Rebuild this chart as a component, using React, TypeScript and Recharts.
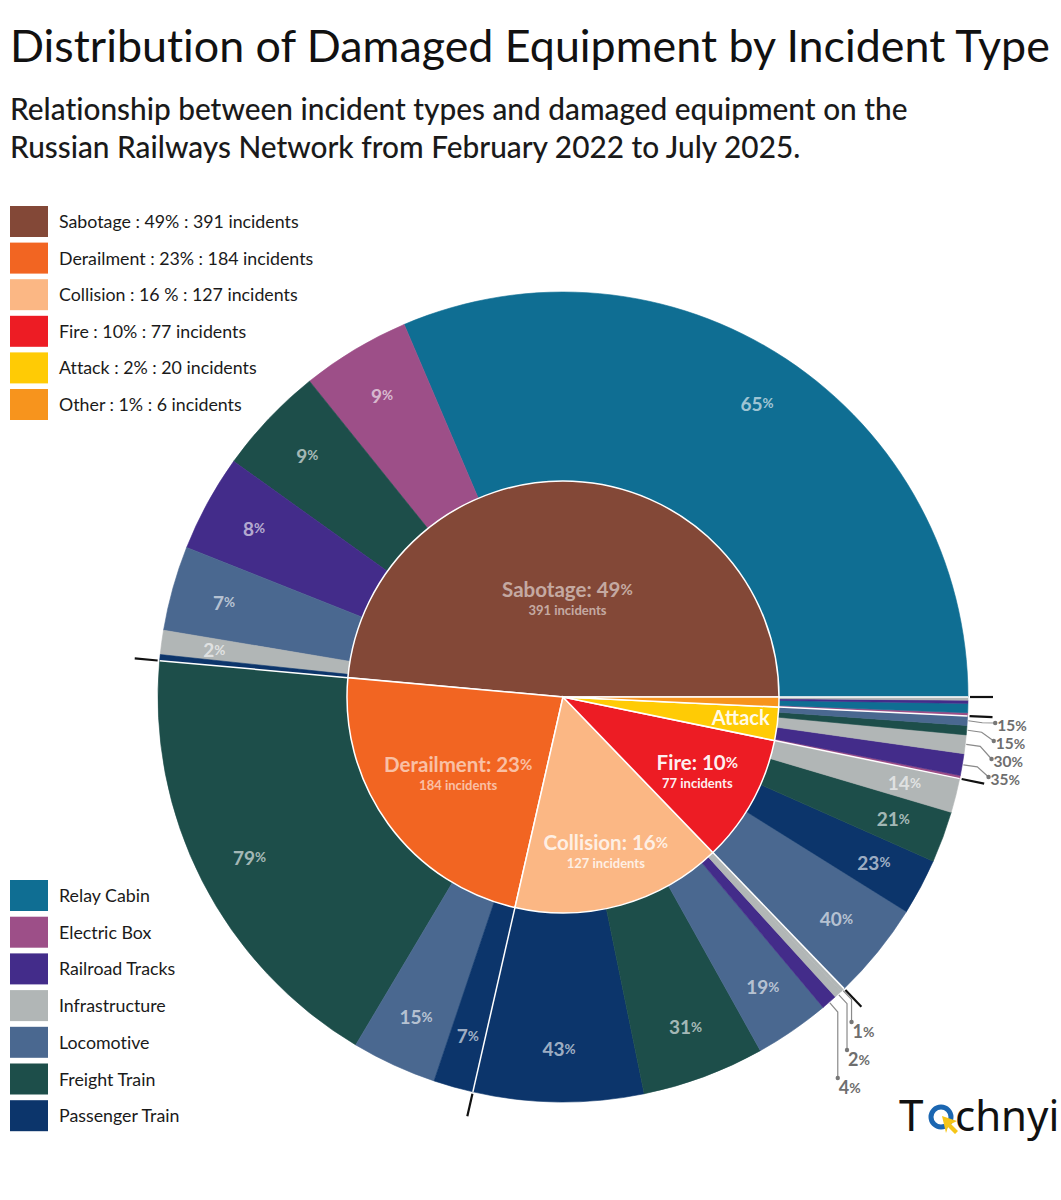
import React from 'react';
import { PieChart, Pie, Cell } from 'recharts';

// ---------------- DATA ----------------
const incidentTypes = ['Sabotage', 'Derailment', 'Collision', 'Fire', 'Attack', 'Other'];
const incidentCounts = [391, 184, 127, 77, 20, 6];
const incidentPctText = ['49%', '23%', '16%', '10%', '2%', '1%'];
const legendIncidentLabels = [
  'Sabotage : 49% : 391 incidents',
  'Derailment : 23% : 184 incidents',
  'Collision : 16 % : 127 incidents',
  'Fire : 10% : 77 incidents',
  'Attack : 2% : 20 incidents',
  'Other : 1% : 6 incidents',
];

const equipmentTypes = [
  'Relay Cabin',
  'Electric Box',
  'Railroad Tracks',
  'Infrastructure',
  'Locomotive',
  'Freight Train',
  'Passenger Train',
];

const sabotageEquipment = ['Relay Cabin', 'Electric Box', 'Freight Train', 'Railroad Tracks', 'Locomotive', 'Infrastructure', 'Passenger Train'];
const sabotageShares = [65, 9, 9, 8, 7, 2, 0.5];

const derailmentEquipment = ['Freight Train', 'Locomotive', 'Passenger Train'];
const derailmentShares = [79, 15, 7];

const collisionEquipment = ['Passenger Train', 'Freight Train', 'Locomotive', 'Railroad Tracks', 'Infrastructure', 'Infrastructure'];
const collisionShares = [43, 31, 19, 4, 2, 1];

const fireEquipment = ['Locomotive', 'Passenger Train', 'Freight Train', 'Infrastructure'];
const fireShares = [40, 23, 21, 14];

const attackEquipment = ['Electric Box', 'Railroad Tracks', 'Infrastructure', 'Freight Train', 'Locomotive'];
const attackShares = [5, 35, 30, 15, 15];

const otherEquipment = ['Electric Box', 'Relay Cabin', 'Railroad Tracks', 'Infrastructure'];
const otherShares = [17, 50, 17, 17];

// ---------------- STYLE ----------------
const incidentColors: Record<string, string> = {
  Sabotage: '#834837',
  Derailment: '#f26522',
  Collision: '#fbb784',
  Fire: '#ed1c24',
  Attack: '#ffcb05',
  Other: '#f7941d',
};
const equipmentColors: Record<string, string> = {
  'Relay Cabin': '#0f6e93',
  'Electric Box': '#9d4f88',
  'Railroad Tracks': '#432c8a',
  Infrastructure: '#b1b6b6',
  Locomotive: '#4a6890',
  'Freight Train': '#1d4e4a',
  'Passenger Train': '#0c356b',
};

const FONT = "Lato, 'Noto Sans', sans-serif";
const NOLIG: React.CSSProperties = { fontVariantLigatures: 'none' };
const CX = 563;
const CY = 697;
const R_IN = 216;
const R_OUT = 405;
const RAD = Math.PI / 180;
const pt = (r: number, a: number) => ({ x: CX + r * Math.cos(a * RAD), y: CY - r * Math.sin(a * RAD) });

// ---------------- DERIVED ----------------
const groupEquipment = [sabotageEquipment, derailmentEquipment, collisionEquipment, fireEquipment, attackEquipment, otherEquipment];
const groupShares = [sabotageShares, derailmentShares, collisionShares, fireShares, attackShares, otherShares];
const total = incidentCounts.reduce((a, b) => a + b, 0);

const innerData = incidentTypes.map((name, i) => ({ name, value: incidentCounts[i] }));
let accI = 0;
const innerAngles = incidentCounts.map((c) => {
  const start = (accI / total) * 360;
  accI += c;
  return { start, end: (accI / total) * 360 };
});

type OuterItem = { name: string; group: string; share: number; value: number; start: number; end: number; idx: number; n: number };
const outerData: OuterItem[] = [];
let accO = 0;
incidentTypes.forEach((g, gi) => {
  const shares = groupShares[gi];
  const sum = shares.reduce((a, b) => a + b, 0);
  shares.forEach((sh, j) => {
    const value = (incidentCounts[gi] * sh) / sum;
    const start = (accO / total) * 360;
    accO += value;
    const end = (accO / total) * 360;
    outerData.push({ name: groupEquipment[gi][j], group: g, share: sh, value, start, end, idx: j, n: shares.length });
  });
});

const innerLabelRadius: Record<string, number> = { Sabotage: 0.46, Derailment: 0.6, Collision: 0.74, Fire: 0.71, Attack: 0.82 };
const innerLabelOpacity: Record<string, number> = { Sabotage: 0.55, Derailment: 0.6, Collision: 0.8, Fire: 0.95, Attack: 0.92 };

const renderInnerLabel = (props: any) => {
  const i = props.index as number;
  const { start, end } = innerAngles[i];
  const mid = (start + end) / 2;
  const name = incidentTypes[i];
  const a = pt(R_IN, start);
  const b = pt(R_OUT, start);
  const c = pt(R_OUT + 2, start);
  const d = pt(R_OUT + 25, start);
  const f = innerLabelRadius[name];
  const anchor = f ? pt(R_IN * f, mid) : null;
  const op = innerLabelOpacity[name] ?? 0.8;
  return (
    <g key={`il-${i}`}>
      <line x1={a.x} y1={a.y} x2={b.x} y2={b.y} stroke="#ffffff" strokeWidth={1.5} />
      <line x1={c.x} y1={c.y} x2={d.x} y2={d.y} stroke="#111111" strokeWidth={2.2} />
      {anchor && name !== 'Attack' && (
        <g>
          <text x={anchor.x} y={anchor.y - 9} textAnchor="middle" dominantBaseline="central" fill="#ffffff" fillOpacity={op} fontFamily={FONT} fontSize={20.5} fontWeight={700}>
            {name}: {incidentPctText[i].replace('%', '')}
            <tspan fontSize={15}>%</tspan>
          </text>
          <text x={anchor.x} y={anchor.y + 12} textAnchor="middle" dominantBaseline="central" fill="#ffffff" fillOpacity={op} fontFamily={FONT} fontSize={13} fontWeight={700}>
            {incidentCounts[i]} incidents
          </text>
        </g>
      )}
      {anchor && name === 'Attack' && (
        <text x={anchor.x + 2} y={anchor.y - 2} textAnchor="middle" dominantBaseline="central" fill="#ffffff" fillOpacity={op} fontFamily={FONT} fontSize={20} fontWeight={700}>
          {name}
        </text>
      )}
    </g>
  );
};

const renderOuterLabel = (props: any) => {
  const item = outerData[props.index as number];
  if (!item) return null;
  const span = item.end - item.start;
  const mid = (item.start + item.end) / 2;
  const k = props.index as number;
  if (item.group === 'Collision' && span < 3.3) {
    const rank = item.n - 1 - item.idx;
    const p0 = pt(R_OUT + 1, mid);
    const p1 = pt(R_OUT + 13, mid);
    const dotY = CY + 325 + rank * 28;
    return (
      <g key={`ol-${k}`}>
        <polyline points={`${p0.x},${p0.y} ${p1.x},${p1.y} ${p1.x},${dotY}`} fill="none" stroke="#8a8a8a" strokeWidth={1.2} />
        <circle cx={p1.x} cy={dotY} r={2.2} fill="#777" />
        <text x={p1.x + 1} y={dotY + 9} dominantBaseline="central" fill="#6e6e6e" fontFamily={FONT} fontSize={18} fontWeight={700}>
          {item.share}
          <tspan fontSize={14}>%</tspan>
        </text>
      </g>
    );
  }
  if (item.group === 'Attack') {
    if (item.share < 10) return null;
    const textY = CY + 80 - (item.idx - 1) * 18;
    const p0 = pt(R_OUT + 1, mid);
    const p1 = { x: p0.x + 14, y: p0.y + 2 };
    const dx = Math.sqrt(433 * 433 - (textY - CY) * (textY - CY));
    const dot = { x: CX + dx, y: textY };
    return (
      <g key={`ol-${k}`}>
        <polyline points={`${p0.x},${p0.y} ${p1.x},${p1.y} ${dot.x},${dot.y}`} fill="none" stroke="#8a8a8a" strokeWidth={1.2} />
        <circle cx={dot.x} cy={dot.y} r={2.2} fill="#777" />
        <text x={dot.x + 2} y={dot.y + 2} dominantBaseline="central" fill="#6e6e6e" fontFamily={FONT} fontSize={15.5} fontWeight={700}>
          {item.share}
          <tspan fontSize={14}>%</tspan>
        </text>
      </g>
    );
  }
  if (span < 3.3) return null;
  const p = pt(352, mid);
  return (
    <text key={`ol-${k}`} x={p.x} y={p.y} textAnchor="middle" dominantBaseline="central" fill="#ffffff" fillOpacity={0.62} fontFamily={FONT} fontSize={19} fontWeight={700}>
      {item.share}
      <tspan fontSize={13.5}>%</tspan>
    </text>
  );
};

const LegendRow = ({ top, color, label }: { top: number; color: string; label: string }) => (
  <g>
    <rect x={10} y={top} width={38} height={31} fill={color} />
    <text x={59} y={top + 22} fill="#1a1a1a" fontFamily={FONT} fontSize={17.8} style={NOLIG}>
      {label}
    </text>
  </g>
);

export default function App() {
  return (
    <div style={{ position: 'absolute', left: 0, top: 0, width: 1061, height: 1200, background: '#ffffff', overflow: 'hidden' }}>
      <div style={{ position: 'absolute', left: 0, top: 0 }}>
        <PieChart width={1061} height={1200} margin={{ top: 0, right: 0, bottom: 0, left: 0 }}>
          <Pie
            data={outerData}
            dataKey="value"
            nameKey="name"
            cx={CX}
            cy={CY}
            innerRadius={R_IN}
            outerRadius={R_OUT}
            startAngle={0}
            endAngle={360}
            isAnimationActive={false}
            labelLine={false}
            label={renderOuterLabel}
          >
            {outerData.map((d, i) => (
              <Cell key={`o-${i}`} fill={equipmentColors[d.name]} stroke={equipmentColors[d.name]} strokeWidth={0.6} />
            ))}
          </Pie>
          <Pie
            data={innerData}
            dataKey="value"
            nameKey="name"
            cx={CX}
            cy={CY}
            innerRadius={0}
            outerRadius={R_IN}
            startAngle={0}
            endAngle={360}
            isAnimationActive={false}
            labelLine={false}
            label={renderInnerLabel}
          >
            {innerData.map((d, i) => (
              <Cell key={`i-${i}`} fill={incidentColors[d.name]} stroke="#ffffff" strokeWidth={1.5} />
            ))}
          </Pie>
        </PieChart>
      </div>
      <svg width={1061} height={1200} style={{ position: 'absolute', left: 0, top: 0, pointerEvents: 'none' }}>
        <text x={10} y={62} fill="#111111" fontFamily={FONT} fontSize={44.8} style={NOLIG}>
          Distribution of Damaged Equipment by Incident Type
        </text>
        <text x={10} y={120} fill="#1a1a1a" fontFamily={FONT} fontSize={29.8} fontWeight={500} style={NOLIG}>
          Relationship between incident types and damaged equipment on the
        </text>
        <text x={10} y={158} fill="#1a1a1a" fontFamily={FONT} fontSize={29.8} fontWeight={500} style={NOLIG}>
          Russian Railways Network from February 2022 to July 2025.
        </text>
        {incidentTypes.map((t, i) => (
          <LegendRow key={t} top={206 + i * 36.6} color={incidentColors[t]} label={legendIncidentLabels[i]} />
        ))}
        {equipmentTypes.map((t, i) => (
          <LegendRow key={t} top={880 + i * 36.7} color={equipmentColors[t]} label={t} />
        ))}
        <g>
          <text x={899} y={1131} fill="#111111" fontFamily="'Noto Sans', sans-serif" fontSize={44}>
            T
          </text>
          <circle cx={941} cy={1117} r={10} fill="none" stroke="#1b66b1" strokeWidth={5} />
          <polygon points="942,1116 957,1121 951,1124 958,1131 955,1134 948,1127 946,1133" fill="#f5c518" />
          <text x={955} y={1131} fill="#111111" fontFamily="'Noto Sans', sans-serif" fontSize={42}>
            chnyi
          </text>
        </g>
      </svg>
    </div>
  );
}
